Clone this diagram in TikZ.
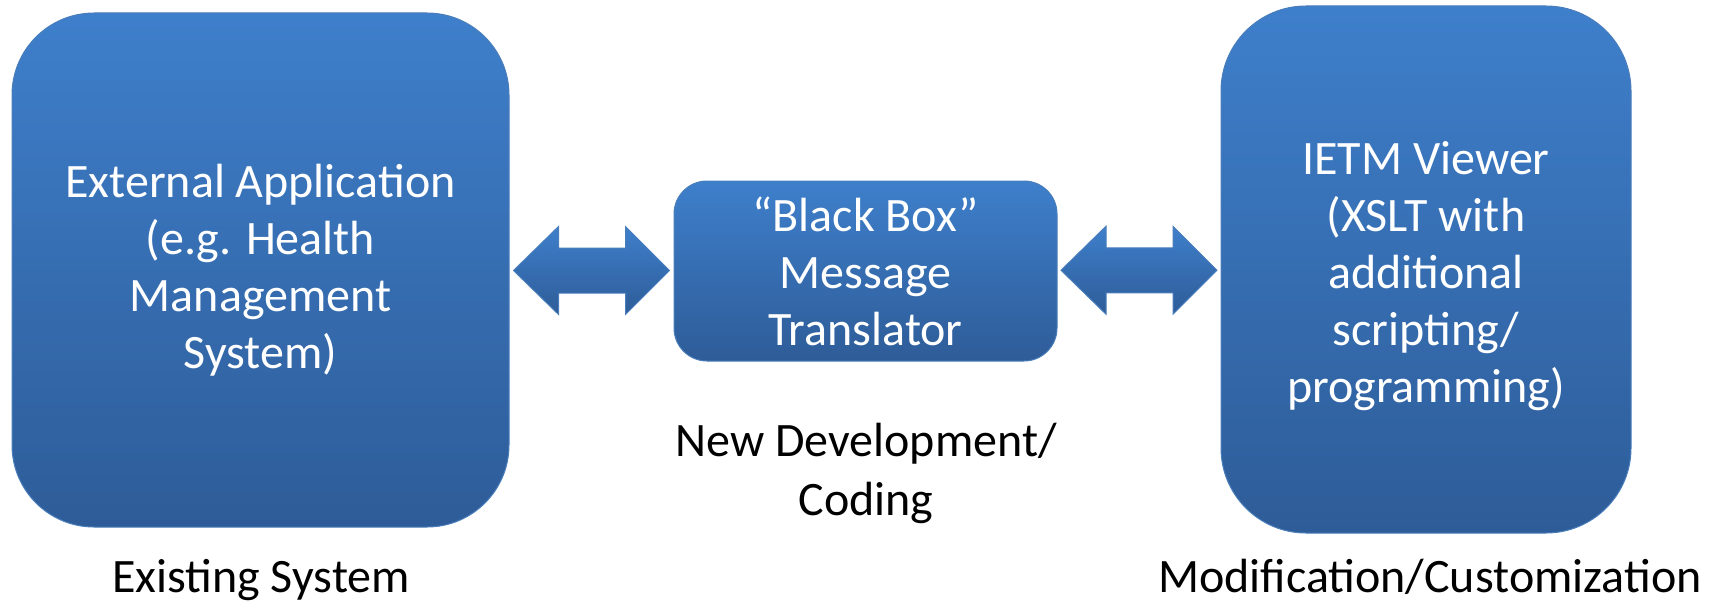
\documentclass[tikz,border=0pt]{standalone}
\usepackage{fontspec}
\setmainfont{Carlito}
\usetikzlibrary{calc}

\definecolor{boxtop}{RGB}{62,127,203}
\definecolor{boxbot}{RGB}{46,92,152}
\definecolor{boxline}{RGB}{74,126,187}

\tikzset{
  bluebox/.style={draw=boxline, line width=1pt, top color=boxtop, bottom color=boxbot,
    text=white, align=center, inner sep=0pt, font=\fontsize{48}{57}\selectfont},
  blockarrow/.style={draw=boxline, line width=1pt, top color=boxtop, bottom color=boxbot},
  caption/.style={align=center, inner sep=0pt, font=\fontsize{48}{59}\selectfont}
}

\begin{document}
\begin{tikzpicture}[x=1pt,y=-1pt]
\useasboundingbox (0,0) rectangle (1712,602);

% the three systems
\node[bluebox, minimum width=497pt, minimum height=514pt, rounded corners=82pt] (ext) at (260.5,270)
  {External Application\\(e.g. Health\\Management\\System)};
\node[bluebox, minimum width=383pt, minimum height=180pt, rounded corners=33pt] (bbox) at (865.5,271)
  {``Black Box''\\Message\\Translator};
\node[bluebox, minimum width=410pt, minimum height=527pt, rounded corners=85pt] (ietm) at (1426,269.5)
  {\rule{0pt}{46pt}IETM Viewer\\(XSLT with\\additional\\scripting/\\programming)};

% block arrows between them
\coordinate (a1) at ($(ext.east)!0.5!(bbox.west)$);
\coordinate (a2) at ($(bbox.east)!0.5!(ietm.west)$);
\foreach \c in {a1,a2}
  \path[blockarrow] ($(\c)+(-78,0)$) -- ($(\c)+(-33,-44)$) -- ($(\c)+(-33,-22.5)$)
    -- ($(\c)+(34,-22.5)$) -- ($(\c)+(34,-44)$) -- ($(\c)+(78,0)$) -- ($(\c)+(34,44)$)
    -- ($(\c)+(34,22.5)$) -- ($(\c)+(-33,22.5)$) -- ($(\c)+(-33,44)$) -- cycle;

% captions
\node[caption, anchor=base] (exist) at (261,592) {Existing System};
\node[caption, anchor=base] (newdev) at (866,515) {New Development/\\Coding};
\node[caption, anchor=base] (modif) at (1430,592) {Modification/Customization};
\end{tikzpicture}
\end{document}
